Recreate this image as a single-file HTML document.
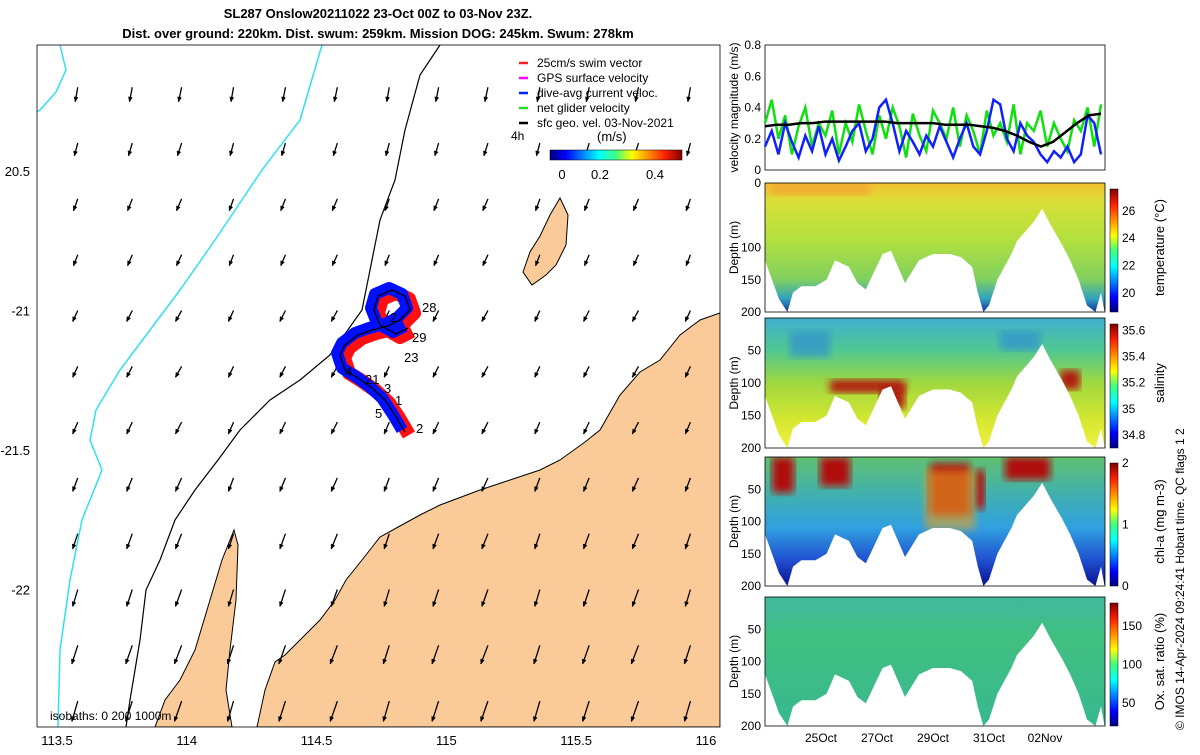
<!DOCTYPE html>
<html><head><meta charset="utf-8"><style>
body{margin:0;background:#fff;}
svg{font-family:"Liberation Sans",sans-serif;}
</style></head><body>
<svg id="fig" width="1200" height="750" viewBox="0 0 1200 750" xmlns="http://www.w3.org/2000/svg">
<defs>
<clipPath id="mapclip"><rect x="37" y="45" width="683" height="682"/></clipPath>
<linearGradient id="jet" x1="0" x2="1" y1="0" y2="0">
<stop offset="0" stop-color="#00007f"/><stop offset="0.12" stop-color="#0000ff"/><stop offset="0.37" stop-color="#00ffff"/><stop offset="0.5" stop-color="#40ff80"/><stop offset="0.62" stop-color="#ffff00"/><stop offset="0.87" stop-color="#ff2000"/><stop offset="1" stop-color="#7f0000"/></linearGradient>
<linearGradient id="jetv" x1="0" x2="0" y1="1" y2="0">
<stop offset="0" stop-color="#00007f"/><stop offset="0.12" stop-color="#0000ff"/><stop offset="0.37" stop-color="#00ffff"/><stop offset="0.5" stop-color="#40ff80"/><stop offset="0.62" stop-color="#ffff00"/><stop offset="0.87" stop-color="#ff2000"/><stop offset="1" stop-color="#7f0000"/></linearGradient>
<linearGradient id="gT" x1="0" x2="0" y1="0" y2="1">
<stop offset="0" stop-color="#f5c030"/><stop offset="0.15" stop-color="#d8e038"/><stop offset="0.45" stop-color="#b0e040"/><stop offset="0.75" stop-color="#80d060"/><stop offset="0.9" stop-color="#30a0c0"/><stop offset="1" stop-color="#1030a0"/></linearGradient>
<linearGradient id="gS" x1="0" x2="0" y1="0" y2="1">
<stop offset="0" stop-color="#40b0d0"/><stop offset="0.25" stop-color="#50c890"/><stop offset="0.5" stop-color="#a0d840"/><stop offset="0.8" stop-color="#d8e830"/><stop offset="1" stop-color="#f0f040"/></linearGradient>
<linearGradient id="gC" x1="0" x2="0" y1="0" y2="1">
<stop offset="0" stop-color="#60c070"/><stop offset="0.3" stop-color="#40b0b0"/><stop offset="0.55" stop-color="#30a0e0"/><stop offset="0.8" stop-color="#2050d0"/><stop offset="1" stop-color="#0a1090"/></linearGradient>
<linearGradient id="gO" x1="0" x2="0" y1="0" y2="1">
<stop offset="0" stop-color="#40b8a0"/><stop offset="0.3" stop-color="#40c080"/><stop offset="1" stop-color="#38b890"/></linearGradient>
<filter id="blur"><feGaussianBlur stdDeviation="4"/></filter>
</defs>
<g id="titles" font-weight="bold" font-size="13" text-anchor="middle">
<text x="378" y="18">SL287 Onslow20211022 23-Oct 00Z to 03-Nov 23Z.</text>
<text x="378" y="38">Dist. over ground: 220km. Dist. swum: 259km. Mission DOG: 245km. Swum: 278km</text>
</g>
<g id="map"></g>
<g id="right"></g>
<text transform="translate(1184,730) rotate(-90)" font-size="12">© IMOS 14-Apr-2024 09:24:41 Hobart time. QC flags 1  2</text>
</svg>
<script>
// ===== Map data =====
const lonTicks=[113.5,114,114.5,115,115.5,116];
const latTicks=[-20.5,-21,-21.5,-22];
const latLabels=["20.5","-21","-21.5","-22"];
const arrowU=[-0.03,-0.04,-0.05,-0.05,-0.06,-0.06,-0.06,-0.06,-0.06,-0.06,-0.07,-0.07];
const arrowV=[-0.17,-0.15,-0.14,-0.13,-0.13,-0.13,-0.14,-0.16,-0.18,-0.20,-0.22,-0.24];
const arrowLons=[113.58,113.79,113.98,114.18,114.38,114.58,114.78,114.97,115.16,115.36,115.55,115.74,115.94];
const arrowLats=[-20.2,-20.4,-20.6,-20.8,-21.0,-21.2,-21.4,-21.6,-21.8,-22.0,-22.2,-22.4];
// ===== Time-series data (days since 23-Oct 00Z) =====
const xTickDays=[2,4,6,8,10];
const xTickLabels=["25Oct","27Oct","29Oct","31Oct","02Nov"];
const geoVel=[0.28,0.29,0.29,0.30,0.30,0.31,0.31,0.31,0.31,0.31,0.31,0.30,0.30,0.30,0.30,0.29,0.29,0.29,0.28,0.27,0.25,0.22,0.18,0.15,0.18,0.24,0.30,0.35,0.36];
const blueVel=[0.15,0.25,0.10,0.30,0.18,0.08,0.22,0.12,0.28,0.10,0.20,0.06,0.15,0.25,0.30,0.12,0.20,0.40,0.45,0.30,0.12,0.25,0.18,0.10,0.22,0.15,0.28,0.18,0.08,0.20,0.30,0.15,0.10,0.25,0.45,0.42,0.20,0.12,0.30,0.22,0.18,0.10,0.05,0.12,0.08,0.15,0.05,0.10,0.35,0.30,0.10];
const greenVel=[0.30,0.45,0.20,0.35,0.10,0.28,0.40,0.15,0.30,0.22,0.38,0.10,0.30,0.18,0.42,0.25,0.10,0.35,0.20,0.40,0.28,0.08,0.36,0.22,0.12,0.38,0.30,0.20,0.40,0.15,0.35,0.25,0.10,0.38,0.22,0.30,0.18,0.42,0.10,0.30,0.25,0.38,0.15,0.30,0.20,0.12,0.32,0.25,0.40,0.15,0.42];
const bottomDays=[0,0.5,0.8,1,1.3,1.8,2.2,2.5,3,3.3,3.6,4.2,4.5,5,5.5,6,6.6,7,7.4,7.6,7.8,8,8.3,8.8,9,9.3,9.6,9.9,10.2,10.6,10.9,11.2,11.5,11.8,12];
const bottomDepth=[120,180,200,170,160,160,150,120,130,155,165,110,105,155,120,110,110,115,130,170,200,190,150,110,90,75,60,40,65,95,120,150,190,200,170];
const tempTicks=[20,22,24,26], salTicks=[34.8,35,35.2,35.4,35.6], chlTicks=[0,1,2], oxTicks=[50,100,150];

const NS="http://www.w3.org/2000/svg";
function mk(tag,attrs,parent,txt){const e=document.createElementNS(NS,tag);for(const k in attrs)e.setAttribute(k,attrs[k]);if(txt!==undefined)e.textContent=txt;parent.appendChild(e);return e;}
const lonX=l=>57+(l-113.5)*259.6, latY=l=>171+(-20.5-l)*279;
const map=document.getElementById('map');
let e;
e=mk('rect',{x:37,y:45,width:683,height:682,fill:'#fff'},map);

const mg=mk('g',{'clip-path':'url(#mapclip)'},map);
const land='#facb98';
e=mk('polygon',{points:"720,313 700,320 680,335 660,360 640,372 620,395 600,430 585,442 560,460 540,470 510,480 480,490 440,505 420,515 400,526 380,537 362,560 346,580 335,600 320,620 300,640 285,655 275,662 265,690 257,727 720,727",fill:land,stroke:'#000','stroke-width':1},mg);

e=mk('polygon',{points:"155,727 165,700 180,680 195,650 210,600 222,560 234,530 238,545 236,600 230,650 226,690 232,727",fill:land,stroke:'#000','stroke-width':1},mg);

e=mk('polygon',{points:"560,198 568,215 566,245 556,265 546,275 532,285 523,272 530,252 540,236 550,215",fill:land,stroke:'#000','stroke-width':1},mg);

e=mk('polyline',{points:"60,45 66,70 56,92 40,110 37,112",fill:'none',stroke:'#30e0f0','stroke-width':1.5},mg);

e=mk('polyline',{points:"322,45 300,120 262,170 215,240 180,290 150,330 120,370 96,410 90,440 102,470 82,520 70,580 60,650 58,727",fill:'none',stroke:'#30e0f0','stroke-width':1.5},mg);

e=mk('polyline',{points:"440,45 420,75 405,130 395,180 380,220 372,260 362,310 330,355 300,380 270,400 240,430 218,460 195,490 175,520 160,560 146,590 140,640 130,700 126,727",fill:'none',stroke:'#000','stroke-width':1.2},mg);

// arrows
const ag=mk('g',{stroke:'#000','stroke-width':1.3,fill:'#000'},mg);
arrowLats.forEach((la,r)=>arrowLons.forEach((lo,c)=>{
  const x=lonX(lo),y=latY(la);const u=arrowU[r]*(1+0.3*(c%3)/3),v=arrowV[r];
  const x2=x+u*85,y2=y-v*85;
  const g=mk('g',{},ag);
  mk('line',{x1:x,y1:y,x2:x2,y2:y2},g);
  const a=Math.atan2(y2-y,x2-x);
  mk('polygon',{points:`${x2},${y2} ${x2-5*Math.cos(a-0.4)},${y2-5*Math.sin(a-0.4)} ${x2-5*Math.cos(a+0.4)},${y2-5*Math.sin(a+0.4)}`,'stroke-width':0.5},g);
}));
// glider track
const track="405,432 395,415 385,400 372,388 358,378 345,370 340,355 345,345 358,335 372,330 388,326 400,320 410,310 405,296 392,290 378,296 374,310 380,325 396,334 408,328";
e=mk('polyline',{points:track,fill:'none',stroke:'#ff1010','stroke-width':14,'stroke-linejoin':'round',transform:'translate(4,3)'},mg);

e=mk('polyline',{points:track,fill:'none',stroke:'#0010ff','stroke-width':12,'stroke-linejoin':'round',transform:'translate(-3,-2)'},mg);

e=mk('polyline',{points:track,fill:'none',stroke:'#000','stroke-width':1.3},mg);

[["28",430,312],["2",398,322],["29",420,342],["23",412,362],["4",353,376],["21",373,384],["3",392,393],["1",403,405],["5",383,418],["2",424,433]].forEach(d=>{e=mk('text',{x:d[1]-8,y:d[2],'font-size':13},mg,d[0]);});
e=mk('text',{x:50,y:720,'font-size':12},mg,"isobaths: 0    200  1000m");
// legend
const leg=[["#ff2020","25cm/s swim vector"],["#ff00ff","GPS surface velocity"],["#0020ff","dive-avg current veloc."],["#20e020","net glider velocity"],["#000","sfc geo. vel. 03-Nov-2021"]];
leg.forEach((l,i)=>{const g=mk('g',{},mg);
 mk('line',{x1:519,y1:63+i*15,x2:528,y2:63+i*15,stroke:l[0],'stroke-width':2.5},g);mk('text',{x:537,y:67+i*15,'font-size':12},g,l[1]);});
e=mk('text',{x:511,y:140,'font-size':12},mg,"4h");
e=mk('text',{x:597,y:141,'font-size':13},mg,"(m/s)");
e=mk('rect',{x:550,y:150,width:132,height:10,fill:'url(#jet)',stroke:'#000','stroke-width':0.5},mg);
[["0",562],["0.2",600],["0.4",655]].forEach(t=>{e=mk('text',{x:t[1],y:179,'font-size':13,'text-anchor':'middle'},mg,t[0]);});
e=mk('rect',{x:37,y:45,width:683,height:682,fill:'none',stroke:'#000','stroke-width':0.8},map);
lonTicks.forEach(l=>{e=mk('text',{x:lonX(l),y:745,'font-size':13,'text-anchor':'middle'},map,String(l));});
latTicks.forEach((l,i)=>{e=mk('text',{x:30,y:latY(l)+5,'font-size':13,'text-anchor':'end'},map,latLabels[i]);});

// ===== right panels =====
const R=document.getElementById('right');
const X0=765,X1=1105,dayX=d=>X0+d*28;
const vTop=45,vBot=170,vy=v=>vBot-v/0.8*(vBot-vTop);
e=mk('rect',{x:X0,y:vTop,width:X1-X0,height:vBot-vTop,fill:'#fff',stroke:'#000','stroke-width':0.8},R);
[0,0.2,0.4,0.6,0.8].forEach(v=>{e=mk('text',{x:X0-4,y:vy(v)+4,'font-size':12,'text-anchor':'end'},R,String(v));});
function series(arr,color,w,name){const n=arr.length;const pts=arr.map((v,i)=>`${dayX(i*12/(n-1))},${vy(v)}`).join(' ');const el=mk('polyline',{points:pts,fill:'none',stroke:color,'stroke-width':w},R);}
series(greenVel,'#10e010',2.5,'net-glider-velocity-line');
series(blueVel,'#1020ff',2.5,'dive-avg-current-line');
series(geoVel,'#000',2.5,'surface-geo-velocity-line');
e=mk('text',{transform:`translate(738,${(vTop+vBot)/2}) rotate(-90)`,'font-size':12,'text-anchor':'middle'},R,"velocity magnitude (m/s)");
const panels=[
 {top:183,bot:312,fill:'url(#gT)',name:'temperature',title:'temperature (°C)',ticks:tempTicks,lo:18.6,hi:27.6},
 {top:318,bot:448,fill:'url(#gS)',name:'salinity',title:'salinity',ticks:salTicks,lo:34.7,hi:35.65},
 {top:457,bot:586,fill:'url(#gC)',name:'chl-a',title:'chl-a (mg m-3)',ticks:chlTicks,lo:0,hi:2},
 {top:597,bot:726,fill:'url(#gO)',name:'oxygen',title:'Ox. sat. ratio (%)',ticks:oxTicks,lo:20,hi:180}];
panels.forEach((p,pi)=>{
 const dy=d=>p.top+d/200*(p.bot-p.top);
 const g=mk('g',{},R);
 const cid='pc'+pi;const cp=mk('clipPath',{id:cid},g);mk('rect',{x:X0,y:p.top,width:X1-X0,height:p.bot-p.top},cp);
 const inner=mk('g',{'clip-path':`url(#${cid})`},g);
 mk('rect',{x:X0,y:p.top,width:X1-X0,height:p.bot-p.top,fill:p.fill},inner);
 if(pi==1){[[830,95,75,20],[880,105,25,35],[1060,80,20,30]].forEach(b=>mk('rect',{x:b[0],y:dy(b[1]),width:b[2],height:b[3]*0.65,fill:'#b01a10',filter:'url(#blur)'},inner));
   [[790,20,40,40],[1000,20,40,30]].forEach(b=>mk('rect',{x:b[0],y:dy(b[1]),width:b[2],height:b[3]*0.65,fill:'#3090d0',opacity:0.7,filter:'url(#blur)'},inner));}
 if(pi==2){[[772,0,22,55],[820,0,30,45],[930,10,40,80],[1005,0,45,35],[975,20,10,60]].forEach(b=>mk('rect',{x:b[0],y:dy(b[1]),width:b[2],height:b[3]*0.65,fill:'#b01008',filter:'url(#blur)'},inner));
   mk('rect',{x:925,y:dy(20),width:50,height:60,fill:'#e8a020',opacity:0.6,filter:'url(#blur)'},inner);}
 if(pi==0){mk('rect',{x:770,y:p.top,width:100,height:12,fill:'#f0a030',opacity:0.7,filter:'url(#blur)'},inner);}
 const pts=[`${X0},${p.bot+2}`].concat(bottomDays.map((d,i)=>`${dayX(d)},${dy(bottomDepth[i])}`)).concat([`${X1},${p.bot+2}`]);
 mk('polygon',{points:pts.join(' '),fill:'#fff'},inner);
 mk('rect',{x:X0,y:p.top,width:X1-X0,height:p.bot-p.top,fill:'none',stroke:'#000','stroke-width':0.8},g);
 [0,50,100,150,200].forEach(d=>{if(pi==0&&d==50)return;if(pi>0&&d==0)return;mk('text',{x:X0-4,y:Math.min(dy(d)+4,p.bot+4),'font-size':12,'text-anchor':'end'},g,String(d));});
 mk('text',{transform:`translate(738,${(p.top+p.bot)/2}) rotate(-90)`,'font-size':12,'text-anchor':'middle'},g,"Depth (m)");
 const cb=mk('rect',{x:1110,y:p.top+6,width:8,height:p.bot-p.top-6,fill:'url(#jetv)',stroke:'#000','stroke-width':0.5},g);
 
 p.ticks.forEach(t=>{const y=p.bot-(t-p.lo)/(p.hi-p.lo)*(p.bot-p.top-6);mk('text',{x:1122,y:y+4,'font-size':12},g,String(t));});
 mk('text',{transform:`translate(1164,${(p.top+p.bot)/2}) rotate(-90)`,'font-size':13,'text-anchor':'middle'},g,p.title);
});
xTickDays.forEach((d,i)=>{e=mk('text',{x:dayX(d),y:742,'font-size':12,'text-anchor':'middle'},R,xTickLabels[i]);});
</script>
</body></html>
